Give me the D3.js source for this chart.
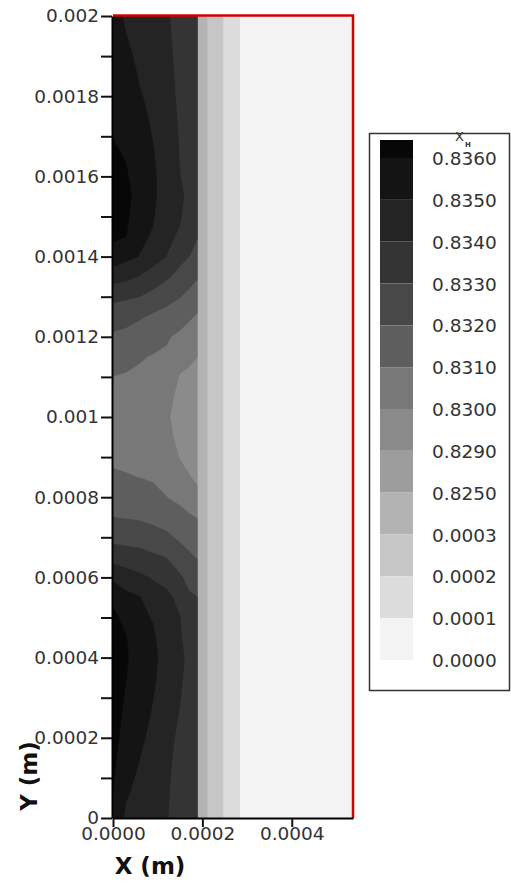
<!DOCTYPE html>
<html>
<head>
<meta charset="utf-8">
<script src="https://cdn.jsdelivr.net/npm/d3@7"></script>
<style>
  body { margin: 0; background: #fff; }
  svg { display: block; font-family: "DejaVu Sans", sans-serif; }
</style>
</head>
<body>
<svg id="chart" width="511" height="885"></svg>
<script>
/* ------------------------- DATA ------------------------- */

// grid nodes of the dark block (m), and of the light part on the right
var xLeft = [0, 0.00003, 0.00006, 0.00009, 0.00012, 0.00015, 0.00017, 0.000189]
var xRight = [0.0002, 0.00023, 0.00026, 0.0003, 0.000537]

// rows, from the top of the plot (0.002) down to 0
var yRows = [0.002, 0.00195, 0.0019, 0.00185, 0.0018, 0.00175, 0.0017, 0.00165, 0.0016, 0.00155,
             0.0015, 0.00145, 0.0014, 0.00135, 0.0013, 0.00125, 0.0012, 0.00115, 0.0011, 0.00105,
             0.001, 0.00095, 0.0009, 0.00085, 0.0008, 0.00075, 0.0007, 0.00065, 0.0006, 0.00055,
             0.0005, 0.00045, 0.0004, 0.00035, 0.0003, 0.00025, 0.0002, 0.00015, 0.0001, 0.00005, 0]

// X_H in the dark block, one row per yRows entry, one column per xLeft entry
var fieldLeft = [
    [0.8355, 0.8348, 0.8346, 0.8345, 0.8341, 0.8337, 0.8336, 0.8335],
    [0.83558, 0.83502, 0.83471, 0.83458, 0.83415, 0.83374, 0.83362, 0.83352],
    [0.83566, 0.83517, 0.83483, 0.83466, 0.8342, 0.83378, 0.83365, 0.83355],
    [0.83574, 0.83533, 0.83494, 0.83474, 0.83425, 0.83381, 0.83367, 0.83357],
    [0.83582, 0.83548, 0.83506, 0.83481, 0.8343, 0.83385, 0.8337, 0.8336],
    [0.8359, 0.83563, 0.83518, 0.83489, 0.8344, 0.83389, 0.83372, 0.83363],
    [0.83598, 0.83578, 0.83529, 0.83497, 0.8345, 0.83393, 0.83375, 0.8337],
    [0.83617, 0.83594, 0.83541, 0.83506, 0.83455, 0.83397, 0.83377, 0.83365],
    [0.83639, 0.8361, 0.83552, 0.83514, 0.8346, 0.83402, 0.8338, 0.83351],
    [0.8366, 0.8363, 0.83554, 0.83517, 0.83454, 0.83417, 0.8338, 0.83336],
    [0.83637, 0.83617, 0.83537, 0.83508, 0.83437, 0.8341, 0.83358, 0.83321],
    [0.83615, 0.83601, 0.83518, 0.83491, 0.83418, 0.83389, 0.83329, 0.83306],
    [0.83561, 0.83525, 0.83497, 0.83435, 0.83399, 0.83329, 0.83302, 0.83266],
    [0.83443, 0.83424, 0.83396, 0.83365, 0.83316, 0.83269, 0.83239, 0.8321],
    [0.83326, 0.83313, 0.83301, 0.83264, 0.83232, 0.83204, 0.83174, 0.83148],
    [0.83247, 0.83233, 0.8321, 0.83186, 0.83167, 0.8314, 0.83113, 0.83091],
    [0.83185, 0.83173, 0.83156, 0.83135, 0.8311, 0.83082, 0.83064, 0.83045],
    [0.83143, 0.83127, 0.83107, 0.83095, 0.83086, 0.83037, 0.83018, 0.83001],
    [0.83099, 0.83092, 0.83086, 0.83077, 0.83068, 0.82993, 0.82982, 0.82971],
    [0.83077, 0.83072, 0.83069, 0.8306, 0.8305, 0.82957, 0.82951, 0.82943],
    [0.8305, 0.8305, 0.8305, 0.8304, 0.8303, 0.8292, 0.8292, 0.8291],
    [0.83066, 0.83065, 0.83065, 0.83055, 0.83046, 0.82958, 0.82948, 0.82932],
    [0.83086, 0.83084, 0.83082, 0.83073, 0.83064, 0.82995, 0.82975, 0.82958],
    [0.83112, 0.83105, 0.83099, 0.83091, 0.83082, 0.83037, 0.83006, 0.82984],
    [0.83156, 0.83149, 0.83143, 0.83125, 0.83101, 0.83079, 0.83059, 0.83025],
    [0.83201, 0.83195, 0.83189, 0.83175, 0.83158, 0.83129, 0.83112, 0.83097],
    [0.83271, 0.83265, 0.83258, 0.83239, 0.83219, 0.83184, 0.83163, 0.83145],
    [0.83362, 0.83348, 0.83337, 0.83318, 0.83298, 0.83249, 0.83217, 0.83194],
    [0.8348, 0.83447, 0.83419, 0.83392, 0.83361, 0.83312, 0.83276, 0.83246],
    [0.83587, 0.83526, 0.83505, 0.83445, 0.8343, 0.83367, 0.83313, 0.83301],
    [0.83616, 0.8358, 0.83521, 0.83494, 0.8344, 0.83403, 0.83335, 0.83314],
    [0.83633, 0.83603, 0.83538, 0.83513, 0.83447, 0.83411, 0.83356, 0.83328],
    [0.83652, 0.8361, 0.8355, 0.83529, 0.8345, 0.8342, 0.8338, 0.83341],
    [0.83669, 0.83601, 0.83552, 0.83517, 0.83446, 0.83413, 0.83376, 0.83355],
    [0.83674, 0.83585, 0.8354, 0.83502, 0.8344, 0.83404, 0.8337, 0.8337],
    [0.83658, 0.83569, 0.83527, 0.83491, 0.83435, 0.83394, 0.83365, 0.83367],
    [0.83642, 0.83553, 0.83514, 0.83481, 0.8343, 0.83381, 0.8336, 0.83365],
    [0.83626, 0.83536, 0.83501, 0.83471, 0.83425, 0.83368, 0.83355, 0.8336],
    [0.8361, 0.8352, 0.83488, 0.8346, 0.8342, 0.83356, 0.8335, 0.8336],
    [0.83594, 0.83504, 0.83474, 0.8345, 0.83415, 0.83343, 0.83345, 0.83353],
    [0.8358, 0.8348, 0.8346, 0.8344, 0.8341, 0.8333, 0.8334, 0.8335]
]

// the right part only changes with x (vertical bands)
var fieldRight = [0.00033, 0.00025, 0.00016, 0.00006, 0.00002]

// contour levels (ascending) and their fills
var levels = [0, 0.0001, 0.0002, 0.0003, 0.825, 0.829, 0.830, 0.831, 0.832, 0.833, 0.834, 0.835, 0.836]
var levelColors = ["#f3f3f3", "#dcdcdc", "#c6c6c6", "#b3b3b3", "#9d9d9d", "#8b8b8b", "#787878",
                   "#5e5e5e", "#484848", "#343434", "#242424", "#141414", "#070707"]
var legendLabels = ["0.8360", "0.8350", "0.8340", "0.8330", "0.8320", "0.8310", "0.8300",
                    "0.8290", "0.8250", "0.0003", "0.0002", "0.0001", "0.0000"]

var yTicks = [0, 0.0001, 0.0002, 0.0003, 0.0004, 0.0005, 0.0006, 0.0007, 0.0008, 0.0009, 0.001,
              0.0011, 0.0012, 0.0013, 0.0014, 0.0015, 0.0016, 0.0017, 0.0018, 0.0019, 0.002]
var yTickLabels = ["0", "", "0.0002", "", "0.0004", "", "0.0006", "", "0.0008", "", "0.001",
                   "", "0.0012", "", "0.0014", "", "0.0016", "", "0.0018", "", "0.002"]
var xTicks = [0, 0.0002, 0.0004]
var xTickLabels = ["0.0000", "0.0002", "0.0004"]

/* ------------------------- SCALES ------------------------- */

var svg = d3.select("#chart")

var x = d3.scaleLinear().domain([0, 0.000537]).range([113, 353])
var y = d3.scaleLinear().domain([0, 0.002]).range([818, 16])

// d3.contours puts sample k at grid coordinate k + 0.5, so map that back onto the nodes
function nodeScale(nodes) {
    let dom = [0], ran = [nodes[0]]
    nodes.forEach(function (v, i) { dom.push(i + 0.5); ran.push(v) })
    dom.push(nodes.length); ran.push(nodes[nodes.length - 1])
    return d3.scaleLinear().domain(dom).range(ran)
}

var xNodes = xLeft.concat(xRight)
var gx = nodeScale(xNodes)
var gy = nodeScale(yRows)

var values = []
fieldLeft.forEach(function (row) { values = values.concat(row, fieldRight) })

/* ------------------------- CONTOURS ------------------------- */

var contours = d3.contours()
    .size([xNodes.length, yRows.length])
    .thresholds(levels)(values)

var gridPath = d3.geoPath(d3.geoTransform({
    point: function (px, py) { this.stream.point(x(gx(px)), y(gy(py))) }
}))

svg.append("clipPath").attr("id", "plotClip")
    .append("rect")
    .attr("x", x(0)).attr("y", y(0.002))
    .attr("width", x(0.000537) - x(0)).attr("height", y(0) - y(0.002))

svg.append("g")
    .attr("clip-path", "url(#plotClip)")
    .selectAll("path")
    .data(contours)
    .enter().append("path")
        .attr("d", gridPath)
        .attr("fill", function (d, i) { return levelColors[i] })

// red frame on top and right
svg.append("path")
    .attr("d", "M" + x(0) + "," + (y(0.002) - 0.5) + "H" + x(0.000537) + "V" + y(0))
    .attr("fill", "none")
    .attr("stroke", "#d40000")
    .attr("stroke-width", 2.5)

/* ------------------------- AXES ------------------------- */

svg.append("g")
    .attr("transform", "translate(" + (x(0) - 1) + ",0)")
    .call(d3.axisLeft(y)
        .tickValues(yTicks)
        .tickFormat(function (d, i) { return yTickLabels[i] })
        .tickSize(11).tickSizeOuter(0).tickPadding(2))

svg.append("g")
    .attr("transform", "translate(0," + y(0) + ")")
    .call(d3.axisBottom(x)
        .tickValues(xTicks)
        .tickFormat(function (d, i) { return xTickLabels[i] })
        .tickSize(9).tickSizeOuter(0).tickPadding(0))

svg.selectAll(".domain").attr("stroke", "#000").attr("stroke-width", 2)
svg.selectAll(".tick line").attr("stroke", "#111").attr("stroke-width", 2)
svg.selectAll(".tick text")
    .attr("fill", "#333")
    .style("font-family", "DejaVu Sans, sans-serif")
    .style("font-size", "18.5px")

svg.append("text")
    .attr("x", 150).attr("y", 874)
    .attr("text-anchor", "middle")
    .attr("font-weight", "bold").attr("font-size", 23).attr("fill", "#111")
    .text("X (m)")

svg.append("text")
    .attr("transform", "translate(37,776) rotate(-90)")
    .attr("text-anchor", "middle")
    .attr("font-weight", "bold").attr("font-size", 23).attr("fill", "#111")
    .text("Y (m)")

/* ------------------------- LEGEND ------------------------- */

svg.append("rect")
    .attr("x", 369.5).attr("y", 133.5)
    .attr("width", 140).attr("height", 557)
    .attr("fill", "#fff").attr("stroke", "#333").attr("stroke-width", 1.5)

var legendY = d3.scaleLinear().domain([0, legendLabels.length - 1]).range([158, 660])
var legendColors = levelColors.slice().reverse()

svg.append("g").selectAll("rect")
    .data(legendColors)
    .enter().append("rect")
        .attr("x", 380).attr("width", 33)
        .attr("y", function (d, i) { return i == 0 ? 140 : legendY(i - 1) })
        .attr("height", function (d, i) { return i == 0 ? legendY(0) - 140 : legendY(i) - legendY(i - 1) })
        .attr("fill", function (d) { return d })

svg.append("g").selectAll("text")
    .data(legendLabels)
    .enter().append("text")
        .attr("x", 432)
        .attr("y", function (d, i) { return legendY(i) + 2 })
        .attr("dominant-baseline", "middle")
        .attr("font-size", 18.5).attr("fill", "#333")
        .text(function (d) { return d })

svg.append("text").attr("x", 455).attr("y", 141)
    .attr("font-size", 13).attr("fill", "#333").text("X")
svg.append("text").attr("x", 465).attr("y", 147)
    .attr("font-size", 7).attr("font-weight", "bold").attr("fill", "#333").text("H")
</script>
</body>
</html>
